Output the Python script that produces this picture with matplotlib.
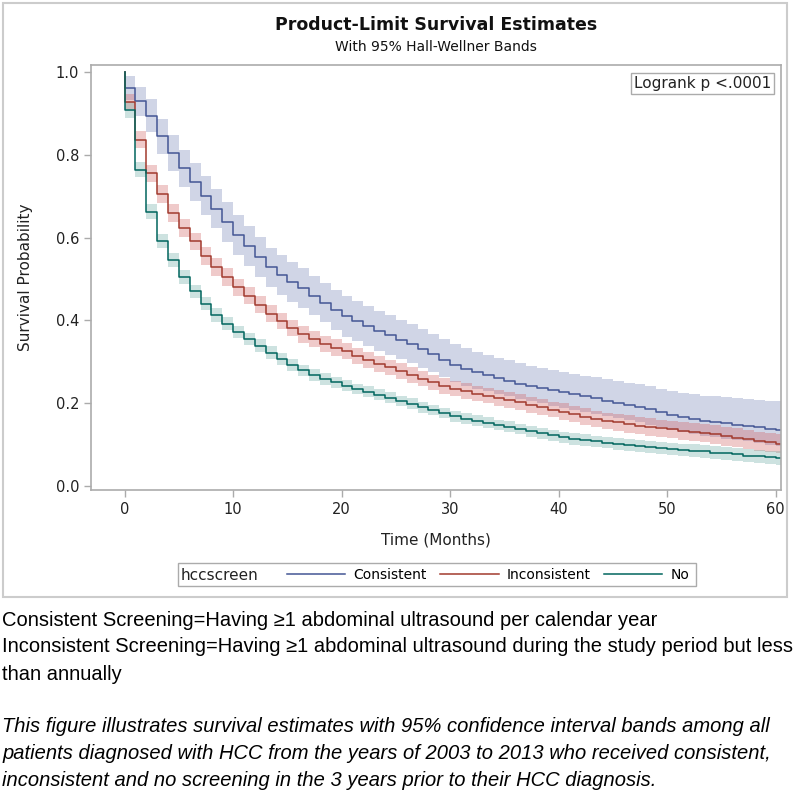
import numpy as np
import matplotlib
matplotlib.use("Agg")
import matplotlib.pyplot as plt
from matplotlib.patches import Rectangle
from matplotlib.lines import Line2D

# survival estimates at each month (value holds from month k to k+1)
months = list(range(61))
max_follow = 60.5

consistent = [0.962, 0.930, 0.895, 0.845, 0.805, 0.768, 0.735, 0.702, 0.670, 0.638,
              0.607, 0.580, 0.553, 0.528, 0.510, 0.493, 0.478, 0.460, 0.443, 0.425,
              0.410, 0.398, 0.386, 0.375, 0.364, 0.353, 0.342, 0.330, 0.318, 0.305,
              0.293, 0.283, 0.275, 0.268, 0.261, 0.254, 0.247, 0.241, 0.236, 0.231,
              0.226, 0.221, 0.216, 0.211, 0.206, 0.200, 0.195, 0.190, 0.185, 0.178,
              0.172, 0.166, 0.161, 0.157, 0.154, 0.151, 0.148, 0.145, 0.141, 0.137,
              0.134]
consistent_lo = [0.934, 0.895, 0.855, 0.803, 0.761, 0.723, 0.689, 0.655, 0.623, 0.590,
                 0.559, 0.532, 0.505, 0.480, 0.462, 0.445, 0.430, 0.412, 0.395, 0.377,
                 0.360, 0.350, 0.338, 0.327, 0.316, 0.306, 0.296, 0.285, 0.274, 0.262,
                 0.251, 0.242, 0.235, 0.228, 0.222, 0.216, 0.210, 0.204, 0.199, 0.194,
                 0.189, 0.184, 0.179, 0.174, 0.169, 0.163, 0.158, 0.153, 0.148, 0.141,
                 0.135, 0.129, 0.124, 0.120, 0.117, 0.113, 0.110, 0.107, 0.103, 0.099,
                 0.096]
consistent_hi = [0.990, 0.965, 0.935, 0.887, 0.849, 0.813, 0.781, 0.749, 0.717, 0.686,
                 0.655, 0.628, 0.601, 0.576, 0.558, 0.541, 0.526, 0.508, 0.491, 0.473,
                 0.458, 0.446, 0.434, 0.423, 0.412, 0.401, 0.390, 0.378, 0.366, 0.354,
                 0.342, 0.332, 0.324, 0.317, 0.310, 0.303, 0.296, 0.290, 0.285, 0.280,
                 0.275, 0.271, 0.266, 0.262, 0.258, 0.253, 0.249, 0.245, 0.241, 0.235,
                 0.230, 0.225, 0.221, 0.218, 0.216, 0.214, 0.212, 0.210, 0.207, 0.205,
                 0.204]

inconsistent = [0.929, 0.837, 0.756, 0.706, 0.660, 0.623, 0.591, 0.556, 0.529, 0.505,
                0.480, 0.460, 0.438, 0.416, 0.398, 0.381, 0.366, 0.355, 0.343, 0.334,
                0.325, 0.314, 0.304, 0.295, 0.286, 0.277, 0.268, 0.259, 0.250, 0.242,
                0.235, 0.229, 0.223, 0.218, 0.213, 0.208, 0.202, 0.196, 0.190, 0.184,
                0.179, 0.173, 0.167, 0.161, 0.157, 0.153, 0.149, 0.145, 0.142, 0.139,
                0.136, 0.133, 0.130, 0.127, 0.124, 0.120, 0.116, 0.112, 0.108, 0.105,
                0.102]
inconsistent_lo = [0.911, 0.817, 0.735, 0.685, 0.639, 0.602, 0.570, 0.535, 0.508, 0.484,
                   0.460, 0.440, 0.418, 0.396, 0.378, 0.361, 0.346, 0.335, 0.323, 0.314,
                   0.306, 0.295, 0.285, 0.276, 0.267, 0.258, 0.249, 0.240, 0.231, 0.223,
                   0.216, 0.210, 0.204, 0.199, 0.194, 0.189, 0.183, 0.177, 0.171, 0.165,
                   0.159, 0.153, 0.147, 0.141, 0.137, 0.133, 0.128, 0.124, 0.121, 0.118,
                   0.115, 0.111, 0.108, 0.105, 0.102, 0.097, 0.093, 0.089, 0.085, 0.082,
                   0.079]
inconsistent_hi = [0.947, 0.857, 0.777, 0.727, 0.681, 0.644, 0.612, 0.577, 0.550, 0.526,
                   0.500, 0.480, 0.458, 0.436, 0.418, 0.401, 0.386, 0.375, 0.363, 0.354,
                   0.344, 0.333, 0.323, 0.314, 0.305, 0.296, 0.287, 0.278, 0.269, 0.261,
                   0.254, 0.248, 0.242, 0.237, 0.232, 0.227, 0.221, 0.215, 0.209, 0.203,
                   0.199, 0.193, 0.187, 0.181, 0.177, 0.173, 0.170, 0.166, 0.163, 0.160,
                   0.157, 0.155, 0.152, 0.149, 0.146, 0.143, 0.139, 0.135, 0.131, 0.128,
                   0.125]

no_screen = [0.908, 0.764, 0.663, 0.593, 0.545, 0.505, 0.470, 0.440, 0.413, 0.392,
             0.372, 0.355, 0.339, 0.322, 0.306, 0.292, 0.279, 0.268, 0.258, 0.250,
             0.242, 0.234, 0.227, 0.220, 0.213, 0.205, 0.198, 0.190, 0.183, 0.176,
             0.168, 0.162, 0.157, 0.152, 0.147, 0.143, 0.137, 0.132, 0.127, 0.122,
             0.117, 0.113, 0.110, 0.107, 0.104, 0.101, 0.098, 0.096, 0.093, 0.091,
             0.089, 0.087, 0.085, 0.083, 0.080, 0.078, 0.076, 0.073, 0.071, 0.069,
             0.067]
no_screen_lo = [0.889, 0.746, 0.645, 0.576, 0.528, 0.488, 0.454, 0.424, 0.397, 0.376,
                0.357, 0.340, 0.324, 0.307, 0.291, 0.278, 0.265, 0.254, 0.244, 0.236,
                0.229, 0.221, 0.214, 0.207, 0.200, 0.192, 0.185, 0.177, 0.170, 0.163,
                0.155, 0.149, 0.144, 0.139, 0.134, 0.130, 0.124, 0.119, 0.114, 0.109,
                0.103, 0.099, 0.096, 0.093, 0.090, 0.087, 0.083, 0.081, 0.078, 0.076,
                0.074, 0.072, 0.070, 0.067, 0.064, 0.062, 0.060, 0.057, 0.055, 0.053,
                0.051]
no_screen_hi = [0.927, 0.782, 0.681, 0.610, 0.562, 0.522, 0.486, 0.456, 0.429, 0.408,
                0.387, 0.370, 0.354, 0.337, 0.321, 0.306, 0.293, 0.282, 0.272, 0.264,
                0.255, 0.247, 0.240, 0.233, 0.226, 0.218, 0.211, 0.203, 0.196, 0.189,
                0.181, 0.175, 0.170, 0.165, 0.160, 0.156, 0.150, 0.145, 0.140, 0.135,
                0.131, 0.127, 0.124, 0.121, 0.118, 0.115, 0.113, 0.111, 0.108, 0.106,
                0.104, 0.102, 0.100, 0.099, 0.096, 0.094, 0.092, 0.089, 0.087, 0.085,
                0.083]

groups = ["Consistent", "Inconsistent", "No"]
line_colors = ["#445694", "#A23A2E", "#01665E"]
band_colors = ["#6F7EB3", "#D05B5B", "#66A5A0"]

notes = [
    "Consistent Screening=Having \u22651 abdominal ultrasound per calendar year",
    "Inconsistent Screening=Having \u22651 abdominal ultrasound during the study period but less",
    "than annually",
]
caption = [
    "This figure illustrates survival estimates with 95% confidence interval bands among all",
    "patients diagnosed with HCC from the years of 2003 to 2013 who received consistent,",
    "inconsistent and no screening in the 3 years prior to their HCC diagnosis.",
]

W, H = 800, 791
fig = plt.figure(figsize=(W / 100, H / 100), dpi=100)
ax = fig.add_axes([91 / W, 1 - 490 / H, 690 / W, 425 / H])

t = np.append(months, max_follow)
series = [(consistent, consistent_lo, consistent_hi),
          (inconsistent, inconsistent_lo, inconsistent_hi),
          (no_screen, no_screen_lo, no_screen_hi)]

for (est, lo, hi), bc in zip(series, band_colors):
    lo2 = np.append(lo, lo[-1])
    hi2 = np.append(hi, hi[-1])
    ax.fill_between(t, lo2, hi2, step="post", color=bc, alpha=0.32, lw=0)

handles = []
for (est, lo, hi), lc, name in zip(series, line_colors, groups):
    y = np.append(est, est[-1])
    ax.step(np.r_[0, t], np.r_[1.0, y], where="post", color=lc, lw=1.1)
    handles.append(Line2D([], [], color=lc, lw=1.1, label=name))

ax.set_xlim(-3.1, 60.5)
ax.set_ylim(-0.0104, 1.0177)
ax.set_xticks(range(0, 61, 10))
ax.set_yticks(np.arange(0, 1.01, 0.2))
ax.set_yticklabels(["%.1f" % v for v in np.arange(0, 1.01, 0.2)])
for s in ax.spines.values():
    s.set_color("#ababab")
    s.set_linewidth(1.2)
ax.tick_params(colors="#ababab", labelcolor="#222222", labelsize=10.5, length=5, width=1)
ax.set_xlabel("Time (Months)", fontsize=11, color="#222222", labelpad=11)
ax.set_ylabel("Survival Probability", fontsize=11, color="#222222", labelpad=16)

ax.annotate("Logrank p <.0001", xy=(1, 1), xycoords="axes fraction",
            xytext=(-10, -11), textcoords="offset pixels", ha="right", va="top",
            fontsize=11, color="#222222",
            bbox=dict(boxstyle="square,pad=0.2", fc="white", ec="#ababab", lw=1))

fig.text(436 / W, 1 - 25 / H, "Product-Limit Survival Estimates", ha="center",
         va="center", fontsize=12.5, fontweight="bold", color="#111111")
fig.text(436 / W, 1 - 47 / H, "With 95% Hall-Wellner Bands", ha="center",
         va="center", fontsize=10, color="#111111")

# legend row
fig.patches.append(Rectangle((178 / W, 1 - 586 / H), 518 / W, 23 / H, transform=fig.transFigure,
                             fill=False, ec="#ababab", lw=1))
fig.text(181 / W, 1 - 575 / H, "hccscreen", ha="left", va="center", fontsize=11, color="#222222")
fig.legend(handles=handles, loc="center left", bbox_to_anchor=(287 / W, 1 - 575 / H),
           ncol=3, frameon=False, fontsize=10, handlelength=4.2, handletextpad=0.6,
           columnspacing=0.95, borderpad=0, borderaxespad=0)

# outer border of the graph image
fig.patches.append(Rectangle((3 / W, 1 - 597 / H), 784 / W, 594 / H, transform=fig.transFigure,
                             fill=False, ec="#cccccc", lw=1.5))

for i, line in enumerate(notes):
    fig.text(2 / W, 1 - (620 + 27 * i) / H, line, ha="left", va="center",
             fontsize=14.5, family="Liberation Sans", color="black")
for i, line in enumerate(caption):
    fig.text(2 / W, 1 - (727 + 26.5 * i) / H, line, ha="left", va="center",
             fontsize=14.5, family="Liberation Sans", style="italic", color="black")

fig.savefig("out.png", dpi=100)
